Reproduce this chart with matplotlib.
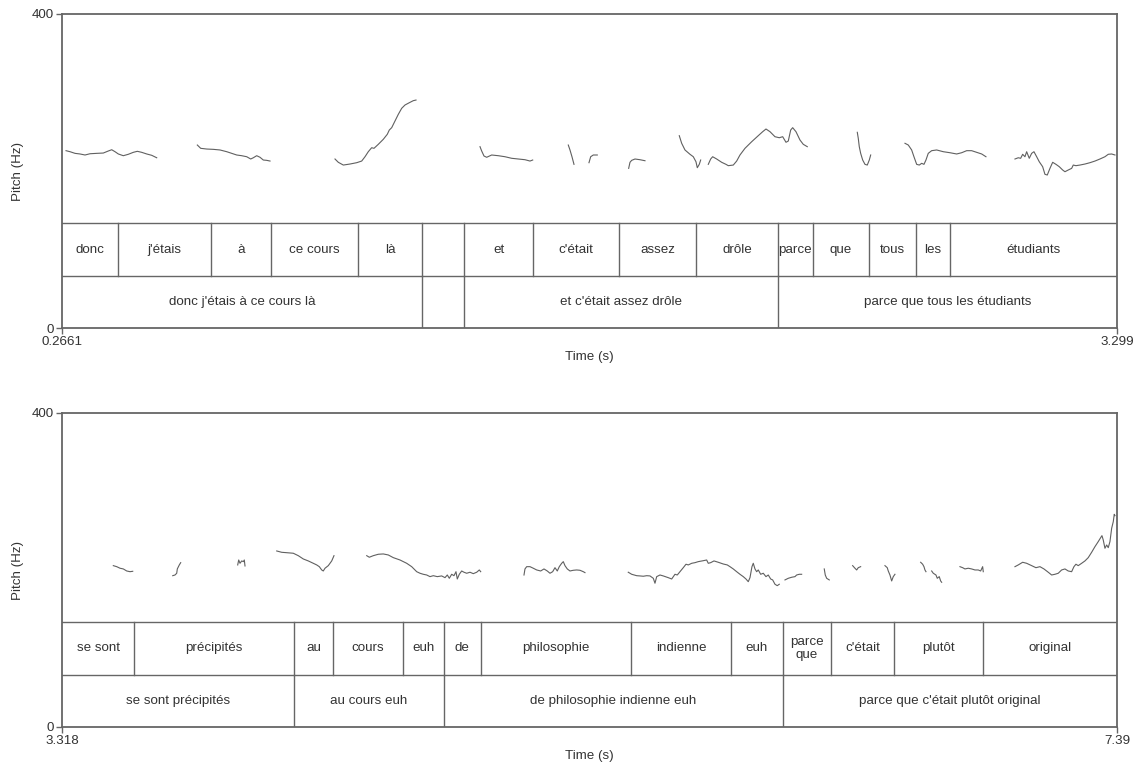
import matplotlib
matplotlib.use("Agg")
import matplotlib.pyplot as plt
import matplotlib.transforms as mtransforms

plt.rcParams["font.family"] = ["Liberation Sans", "DejaVu Sans"]

# ---- panel 1 : 0.2661 - 3.299 s ----
top_range = (0.2661, 3.299)
top_range_labels = ("0.2661", "3.299")
top_words = ["donc", "j'étais", "à", "ce cours", "là", "", "et", "c'était", "assez",
             "drôle", "parce", "que", "tous", "les", "étudiants"]
top_word_edges = [0.2661, 0.426, 0.694, 0.867, 1.117, 1.301, 1.422, 1.620, 1.867,
                  2.089, 2.324, 2.425, 2.586, 2.721, 2.819, 3.299]
top_phrases = ["donc j'étais à ce cours là", "", "et c'était assez drôle",
               "parce que tous les étudiants"]
top_phrase_edges = [0.2661, 1.301, 1.422, 2.324, 3.299]

# pitch contour, one list per voiced stretch
top_pitch_t = [
    [0.2776, 0.2891, 0.3035, 0.3178, 0.3322, 0.3466, 0.3659, 0.3848, 0.3992, 0.4090,
     0.4185, 0.4280, 0.4423, 0.4567, 0.4711, 0.4826, 0.4952, 0.5096, 0.5240, 0.5383],
    [0.6551, 0.6648, 0.6821, 0.7011, 0.7204, 0.7396, 0.7540, 0.7683, 0.7827, 0.7971,
     0.8086, 0.8161, 0.8258, 0.8353, 0.8448, 0.8546, 0.8641],
    [1.0509, 1.0604, 1.0748, 1.0940, 1.1133, 1.1277, 1.1372, 1.1466, 1.1564, 1.1630,
     1.1754, 1.1898, 1.2013, 1.2070, 1.2139, 1.2234, 1.2329, 1.2427, 1.2522, 1.2645,
     1.2760, 1.2838],
    [1.4678, 1.4726, 1.4793, 1.4870, 1.5014, 1.5204, 1.5396, 1.5589, 1.5779, 1.5971,
     1.6115, 1.6193],
    [1.7216, 1.7265, 1.7322, 1.7380],
    [1.7811, 1.7860, 1.7935, 1.8050],
    [1.8952, 1.8990, 1.9039, 1.9134, 1.9277, 1.9421],
    [2.0407, 2.0476, 2.0571, 2.0715, 2.0810, 2.0887, 2.0925, 2.0982, 2.1022],
    [2.1241, 2.1310, 2.1367, 2.1482, 2.1626, 2.1750, 2.1816, 2.1960, 2.2057, 2.2152,
     2.2296, 2.2488, 2.2678, 2.2805, 2.2900, 2.3015, 2.3158, 2.3282, 2.3380, 2.3475,
     2.3541, 2.3610, 2.3667, 2.3762, 2.3877, 2.3972, 2.4087],
    [2.5525, 2.5553, 2.5582, 2.5622, 2.5680, 2.5746, 2.5812, 2.5870, 2.5910],
    [2.6896, 2.6991, 2.7088, 2.7154, 2.7232, 2.7307, 2.7376, 2.7442, 2.7499, 2.7565,
     2.7663, 2.7807, 2.7997, 2.8189, 2.8382, 2.8526, 2.8669, 2.8813, 2.8957, 2.9101,
     2.9224],
    [3.0058, 3.0153, 3.0222, 3.0279, 3.0345, 3.0394, 3.0469, 3.0538, 3.0604, 3.0682,
     3.0757, 3.0854, 3.0920, 3.0987, 3.1064, 3.1142, 3.1237, 3.1332, 3.1429, 3.1495,
     3.1590, 3.1688, 3.1734, 3.1811, 3.1926, 3.2070, 3.2214, 3.2358, 3.2501, 3.2645,
     3.2740, 3.2838, 3.2933],
]
top_pitch_hz = [
    [225.9, 224.6, 222.5, 221.7, 220.4, 222.0, 222.5, 222.9, 225.5, 227.1,
     224.6, 221.7, 219.5, 221.3, 223.8, 225.1, 223.8, 221.7, 220.0, 216.9],
    [233.1, 228.9, 228.0, 227.6, 226.8, 224.6, 222.5, 220.4, 219.5, 218.2,
     215.3, 216.9, 219.5, 217.5, 214.0, 213.6, 212.7],
    [215.3, 211.1, 207.6, 208.9, 210.6, 212.7, 218.2, 224.6, 229.7, 228.9,
     234.0, 240.4, 246.8, 252.2, 255.2, 263.7, 272.2, 279.9, 284.1, 287.0,
     289.6, 290.4],
    [231.0, 225.5, 219.1, 217.5, 220.4, 219.5, 218.2, 216.2, 215.3, 214.4,
     212.7, 214.0],
    [233.1, 226.8, 218.2, 208.5],
    [210.6, 218.2, 220.4, 220.4],
    [203.4, 211.1, 213.6, 215.3, 214.4, 213.1],
    [245.0, 235.3, 226.8, 221.3, 218.2, 211.8, 204.2, 208.5, 214.0],
    [208.5, 215.3, 218.2, 215.3, 211.1, 208.5, 206.8, 207.6, 212.7, 220.4,
     228.9, 237.3, 245.0, 250.1, 253.5, 250.1, 243.7, 242.4, 243.7, 236.6,
     238.2, 252.2, 255.2, 250.1, 239.5, 234.0, 231.0],
    [249.3, 241.7, 231.0, 222.5, 214.0, 208.5, 207.6, 214.0, 220.4],
    [235.3, 233.1, 226.8, 218.2, 208.5, 207.6, 209.8, 208.5, 214.0, 222.5,
     225.9, 226.8, 224.6, 223.3, 221.7, 223.3, 225.9, 225.9, 223.8, 221.7,
     218.2],
    [215.3, 216.9, 216.2, 221.3, 218.2, 224.6, 216.2, 222.5, 224.6, 218.2,
     211.8, 205.5, 195.8, 194.9, 203.4, 211.1, 208.5, 205.5, 201.3, 199.1,
     201.3, 203.4, 207.6, 206.8, 207.6, 208.9, 210.6, 212.7, 215.3, 218.2,
     221.3, 221.7, 220.4],
]

# ---- panel 2 : 3.318 - 7.39 s ----
bot_range = (3.318, 7.39)
bot_range_labels = ("3.318", "7.39")
bot_words = ["se sont", "précipités", "au", "cours", "euh", "de", "philosophie",
             "indienne", "euh", "parce\nque", "c'était", "plutôt", "original"]
bot_word_edges = [3.318, 3.596, 4.213, 4.364, 4.634, 4.792, 4.935, 5.514, 5.900,
                  6.101, 6.286, 6.529, 6.873, 7.39]
bot_phrases = ["se sont précipités", "au cours euh", "de philosophie indienne euh",
               "parce que c'était plutôt original"]
bot_phrase_edges = [3.318, 4.213, 4.792, 6.101, 7.39]

bot_pitch_t = [
    [3.5160, 3.5291, 3.5419, 3.5546, 3.5677, 3.5805, 3.5909],
    [3.7453, 3.7541, 3.7607, 3.7630, 3.7707, 3.7761],
    [3.9961, 4.0000, 4.0050, 4.0116, 4.0178, 4.0216, 4.0243],
    [4.1467, 4.1660, 4.1853, 4.2107, 4.2300, 4.2493, 4.2686, 4.2879, 4.3011, 4.3111,
     4.3204, 4.3265, 4.3331, 4.3458, 4.3590, 4.3678],
    [4.4941, 4.5041, 4.5195, 4.5388, 4.5581, 4.5774, 4.5967, 4.6226, 4.6484, 4.6677,
     4.6870, 4.6998, 4.7125, 4.7256, 4.7384, 4.7511, 4.7666, 4.7835, 4.7963, 4.8052,
     4.8129, 4.8221, 4.8310, 4.8387, 4.8437, 4.8515, 4.8607, 4.8696, 4.8800, 4.8928,
     4.9055, 4.9186, 4.9287, 4.9341],
    [5.1012, 5.1050, 5.1116, 5.1243, 5.1371, 5.1502, 5.1656, 5.1784, 5.1911, 5.2015,
     5.2119, 5.2208, 5.2297, 5.2374, 5.2467, 5.2529, 5.2594, 5.2683, 5.2787, 5.2915,
     5.3046, 5.3173, 5.3301, 5.3366],
    [5.5037, 5.5169, 5.5362, 5.5489, 5.5617, 5.5748, 5.5875, 5.6003, 5.6068, 5.6134,
     5.6261, 5.6388, 5.6581, 5.6713, 5.6840, 5.6929, 5.7033, 5.7160, 5.7265, 5.7354,
     5.7485, 5.7612, 5.7739, 5.7932, 5.8063, 5.8125, 5.8218, 5.8345, 5.8511, 5.8704,
     5.8859, 5.8963, 5.9090, 5.9221, 5.9349, 5.9476, 5.9580, 5.9669, 5.9735, 5.9812,
     5.9862, 5.9928, 5.9993, 6.0055, 6.0148, 6.0248, 6.0352, 6.0441, 6.0534, 6.0611,
     6.0700, 6.0788, 6.0866],
    [6.1086, 6.1213, 6.1344, 6.1472, 6.1537, 6.1638, 6.1730],
    [6.2602, 6.2641, 6.2695, 6.2796],
    [6.3698, 6.3787, 6.3853, 6.3915, 6.4007],
    [6.4945, 6.5034, 6.5073, 6.5138, 6.5204, 6.5266, 6.5331],
    [6.6323, 6.6400, 6.6451, 6.6489, 6.6528],
    [6.6748, 6.6810, 6.6914, 6.6964, 6.7041, 6.7095, 6.7134],
    [6.7840, 6.7944, 6.8033, 6.8160, 6.8291, 6.8419, 6.8546, 6.8639, 6.8716, 6.8740],
    [6.9963, 7.0090, 7.0260, 7.0414, 7.0608, 7.0773, 7.0928, 7.1082, 7.1248, 7.1379,
     7.1507, 7.1634, 7.1765, 7.1893, 7.2020, 7.2151, 7.2240, 7.2317, 7.2406, 7.2537,
     7.2665, 7.2792, 7.2923, 7.3051, 7.3178, 7.3271, 7.3321, 7.3371, 7.3437, 7.3503,
     7.3564, 7.3630, 7.3696, 7.3758, 7.3796, 7.3823],
]
bot_pitch_hz = [
    [205.5, 204.2, 202.2, 201.3, 198.7, 197.8, 198.3],
    [192.7, 193.6, 195.8, 201.3, 206.4, 209.3],
    [206.4, 212.7, 208.5, 211.5, 210.6, 212.7, 205.1],
    [224.2, 222.5, 222.0, 221.3, 218.2, 214.0, 211.5, 208.5, 206.4, 204.2,
     200.0, 198.7, 202.2, 205.5, 211.5, 218.2],
    [218.2, 216.2, 218.2, 220.0, 220.4, 219.1, 215.7, 212.7, 208.5, 204.2,
     197.8, 195.8, 194.5, 193.6, 191.5, 192.7, 191.5, 192.4, 190.2, 193.6,
     189.4, 194.5, 192.7, 197.8, 188.5, 194.5, 198.7, 197.1, 195.8, 197.1,
     195.3, 197.1, 200.0, 197.8],
    [193.6, 201.3, 204.2, 204.2, 202.2, 200.0, 198.7, 201.3, 198.7, 195.8,
     197.8, 202.9, 198.7, 204.2, 208.5, 210.6, 205.5, 201.3, 198.7, 199.6,
     200.0, 199.6, 197.8, 196.6],
    [197.1, 194.5, 192.7, 192.4, 192.0, 192.7, 192.4, 189.4, 183.1, 191.5,
     193.6, 192.4, 190.2, 188.5, 194.5, 193.6, 197.8, 202.9, 207.3, 206.4,
     208.5, 209.3, 210.6, 211.8, 212.7, 208.5, 209.3, 211.5, 209.8, 207.6,
     206.4, 204.2, 201.3, 197.8, 194.5, 191.5, 188.5, 185.1, 190.2, 204.2,
     208.5, 201.3, 197.8, 200.0, 194.5, 195.8, 191.5, 193.6, 188.5, 187.3,
     181.8, 180.0, 181.8],
    [187.3, 189.4, 190.7, 191.5, 193.6, 194.5, 194.5],
    [201.3, 193.6, 189.4, 187.3],
    [205.5, 202.2, 200.0, 202.9, 204.2],
    [205.5, 202.9, 198.7, 193.6, 186.0, 191.5, 194.5],
    [209.8, 207.3, 204.2, 200.0, 197.8],
    [198.7, 195.8, 193.6, 189.4, 191.5, 186.0, 184.3],
    [204.2, 202.9, 201.3, 202.2, 201.3, 200.0, 200.0, 198.7, 204.2, 197.8],
    [204.2, 206.4, 209.8, 208.5, 205.5, 202.9, 204.2, 201.3, 197.1, 193.6,
     194.5, 195.8, 200.0, 201.3, 198.7, 197.8, 204.2, 207.3, 205.5, 208.5,
     211.5, 215.7, 222.5, 229.7, 236.1, 241.1, 243.7, 238.2, 227.6, 231.8,
     228.4, 236.1, 253.1, 261.5, 270.9, 269.2],
]

pitch_range = (0, 400)

FRAME = "#666666"
INK = "#333333"
CURVE = "#606060"
FS = 9.6


def draw_panel(ax, trange, trange_labels, words, word_edges, phrases, phrase_edges,
               pitch_t, pitch_hz):
    for t, hz in zip(pitch_t, pitch_hz):
        ax.plot(t, hz, color=CURVE, lw=0.8, solid_joinstyle="round")

    ax.set_xlim(*trange)
    ax.set_ylim(*pitch_range)

    # text grid: word tier 1/6..1/3, phrase tier 0..1/6 (axes fraction)
    trans = mtransforms.blended_transform_factory(ax.transData, ax.transAxes)
    for yy in (1 / 3, 1 / 6):
        ax.plot([0, 1], [yy, yy], color=FRAME, lw=1.0, transform=ax.transAxes)
    for e in word_edges[1:-1]:
        ax.plot([e, e], [1 / 6, 1 / 3], color=FRAME, lw=1.0, transform=trans)
    for e in phrase_edges[1:-1]:
        ax.plot([e, e], [0, 1 / 6], color=FRAME, lw=1.0, transform=trans)
    for i, w in enumerate(words):
        mid = (word_edges[i] + word_edges[i + 1]) / 2
        ax.text(mid, 0.25, w, transform=trans, ha="center", va="center",
                fontsize=FS, color=INK, linespacing=1.1)
    for i, p in enumerate(phrases):
        mid = (phrase_edges[i] + phrase_edges[i + 1]) / 2
        ax.text(mid, 1 / 12, p, transform=trans, ha="center", va="center",
                fontsize=FS, color=INK)

    for s in ax.spines.values():
        s.set_color(FRAME)
        s.set_linewidth(1.3)
    ax.set_xticks(list(trange))
    ax.set_xticklabels(list(trange_labels))
    ax.set_yticks(list(pitch_range))
    ax.set_yticklabels([str(v) for v in pitch_range])
    ax.tick_params(direction="out", length=4, width=1.0, color=FRAME,
                   labelsize=FS, labelcolor=INK, pad=2)

    ax.set_xlabel("Time (s)", fontsize=FS, color=INK, va="center")
    ax.xaxis.set_label_coords(0.5, -0.093)
    ax.set_ylabel("Pitch (Hz)", fontsize=FS, color=INK, va="center")
    ax.yaxis.set_label_coords(-0.042, 0.5)


fig = plt.figure(figsize=(11.38, 7.65), dpi=100)
ax1 = fig.add_axes([0.0545, 0.5712, 0.927, 0.4105])
ax2 = fig.add_axes([0.0545, 0.0497, 0.927, 0.4105])

draw_panel(ax1, top_range, top_range_labels, top_words, top_word_edges,
           top_phrases, top_phrase_edges, top_pitch_t, top_pitch_hz)
draw_panel(ax2, bot_range, bot_range_labels, bot_words, bot_word_edges,
           bot_phrases, bot_phrase_edges, bot_pitch_t, bot_pitch_hz)

fig.savefig("out.png", dpi=100, facecolor="white")
